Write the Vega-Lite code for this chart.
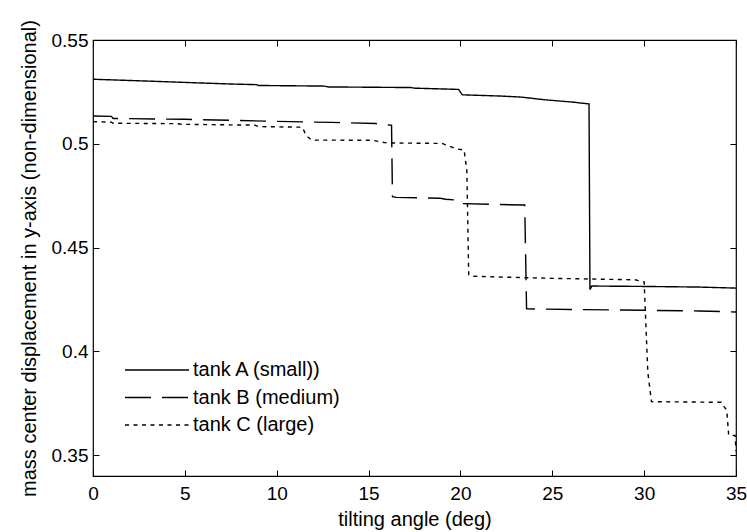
{
  "$schema": "https://vega.github.io/schema/vega-lite/v6.json",
  "width": 643,
  "height": 436,
  "autosize": {"type": "none"},
  "padding": {"left": 93, "top": 40, "right": 11, "bottom": 56},
  "background": "white",
  "config": {
    "view": {"stroke": "black", "strokeWidth": 1.2},
    "axis": {
      "domain": false,
      "grid": false,
      "ticks": true,
      "tickColor": "black",
      "tickSize": -6,
      "tickWidth": 1,
      "labelFont": "Liberation Sans",
      "labelFontSize": 19,
      "labelColor": "black",
      "titleFont": "Liberation Sans",
      "titleFontSize": 20,
      "titleFontWeight": "normal",
      "titleColor": "black",
      "labelFlush": false,
      "labelOverlap": false
    },
    "legend": {
      "labelFont": "Liberation Sans",
      "labelFontSize": 20,
      "labelColor": "black"
    }
  },
  "datasets": {
    "curves": [
      {"tank": "tank A (small))", "angle": 0, "disp": 0.5311},
      {"tank": "tank A (small))", "angle": 3, "disp": 0.5302},
      {"tank": "tank A (small))", "angle": 7.5, "disp": 0.5288},
      {"tank": "tank A (small))", "angle": 8.9, "disp": 0.5285},
      {"tank": "tank A (small))", "angle": 9.0, "disp": 0.5281},
      {"tank": "tank A (small))", "angle": 12.6, "disp": 0.5278},
      {"tank": "tank A (small))", "angle": 12.8, "disp": 0.5274},
      {"tank": "tank A (small))", "angle": 17.3, "disp": 0.5271},
      {"tank": "tank A (small))", "angle": 17.5, "disp": 0.5268},
      {"tank": "tank A (small))", "angle": 19.9, "disp": 0.5262},
      {"tank": "tank A (small))", "angle": 20.1, "disp": 0.5236},
      {"tank": "tank A (small))", "angle": 22.2, "disp": 0.523},
      {"tank": "tank A (small))", "angle": 23.3, "disp": 0.5225},
      {"tank": "tank A (small))", "angle": 24.6, "disp": 0.5212},
      {"tank": "tank A (small))", "angle": 26.1, "disp": 0.5201},
      {"tank": "tank A (small))", "angle": 27.0, "disp": 0.5192},
      {"tank": "tank A (small))", "angle": 27.05, "disp": 0.4298},
      {"tank": "tank A (small))", "angle": 27.15, "disp": 0.4315},
      {"tank": "tank A (small))", "angle": 30, "disp": 0.4313},
      {"tank": "tank A (small))", "angle": 33, "disp": 0.431},
      {"tank": "tank A (small))", "angle": 35, "disp": 0.4305},
      {"tank": "tank B (medium)", "angle": 0, "disp": 0.5134},
      {"tank": "tank B (medium)", "angle": 1.0, "disp": 0.5132},
      {"tank": "tank B (medium)", "angle": 1.1, "disp": 0.5122},
      {"tank": "tank B (medium)", "angle": 5, "disp": 0.5118},
      {"tank": "tank B (medium)", "angle": 8, "disp": 0.5112},
      {"tank": "tank B (medium)", "angle": 10, "disp": 0.5108},
      {"tank": "tank B (medium)", "angle": 13, "disp": 0.5103},
      {"tank": "tank B (medium)", "angle": 15.4, "disp": 0.5098},
      {"tank": "tank B (medium)", "angle": 15.6, "disp": 0.5092},
      {"tank": "tank B (medium)", "angle": 16.25, "disp": 0.509},
      {"tank": "tank B (medium)", "angle": 16.3, "disp": 0.4745},
      {"tank": "tank B (medium)", "angle": 16.5, "disp": 0.4742},
      {"tank": "tank B (medium)", "angle": 18.9, "disp": 0.4738},
      {"tank": "tank B (medium)", "angle": 19.2, "disp": 0.4733},
      {"tank": "tank B (medium)", "angle": 19.9, "disp": 0.4728},
      {"tank": "tank B (medium)", "angle": 20.0, "disp": 0.4712},
      {"tank": "tank B (medium)", "angle": 23.5, "disp": 0.4705},
      {"tank": "tank B (medium)", "angle": 23.6, "disp": 0.4205},
      {"tank": "tank B (medium)", "angle": 26, "disp": 0.4202},
      {"tank": "tank B (medium)", "angle": 30, "disp": 0.4198},
      {"tank": "tank B (medium)", "angle": 33, "disp": 0.4195},
      {"tank": "tank B (medium)", "angle": 35, "disp": 0.419},
      {"tank": "tank C (large)", "angle": 0, "disp": 0.5107},
      {"tank": "tank C (large)", "angle": 1.0, "disp": 0.5104},
      {"tank": "tank C (large)", "angle": 1.1, "disp": 0.5099},
      {"tank": "tank C (large)", "angle": 4.6, "disp": 0.5097},
      {"tank": "tank C (large)", "angle": 4.8, "disp": 0.5094},
      {"tank": "tank C (large)", "angle": 8.8, "disp": 0.509},
      {"tank": "tank C (large)", "angle": 9.0, "disp": 0.5083},
      {"tank": "tank C (large)", "angle": 11.4, "disp": 0.508},
      {"tank": "tank C (large)", "angle": 11.6, "disp": 0.504},
      {"tank": "tank C (large)", "angle": 11.9, "disp": 0.5018},
      {"tank": "tank C (large)", "angle": 15.2, "disp": 0.5017},
      {"tank": "tank C (large)", "angle": 16.0, "disp": 0.5004},
      {"tank": "tank C (large)", "angle": 19.0, "disp": 0.5002},
      {"tank": "tank C (large)", "angle": 19.8, "disp": 0.4975},
      {"tank": "tank C (large)", "angle": 20.2, "disp": 0.497},
      {"tank": "tank C (large)", "angle": 20.35, "disp": 0.487},
      {"tank": "tank C (large)", "angle": 20.45, "disp": 0.437},
      {"tank": "tank C (large)", "angle": 20.6, "disp": 0.4362},
      {"tank": "tank C (large)", "angle": 25, "disp": 0.4352},
      {"tank": "tank C (large)", "angle": 29.5, "disp": 0.4345},
      {"tank": "tank C (large)", "angle": 30.0, "disp": 0.4335},
      {"tank": "tank C (large)", "angle": 30.2, "disp": 0.39},
      {"tank": "tank C (large)", "angle": 30.4, "disp": 0.3758},
      {"tank": "tank C (large)", "angle": 34.2, "disp": 0.3755},
      {"tank": "tank C (large)", "angle": 34.5, "disp": 0.3715},
      {"tank": "tank C (large)", "angle": 34.6, "disp": 0.3597},
      {"tank": "tank C (large)", "angle": 34.95, "disp": 0.3595},
      {"tank": "tank C (large)", "angle": 35, "disp": 0.352}
    ]
  },
  "data": {"name": "curves"},
  "layer": [
    {
      "mark": {"type": "line", "color": "black", "strokeWidth": 1.4, "clip": true},
      "encoding": {
        "x": {
          "field": "angle",
          "type": "quantitative",
          "scale": {"domain": [0, 35], "nice": false, "zero": false},
          "axis": {
            "orient": "bottom",
            "values": [0, 5, 10, 15, 20, 25, 30, 35],
            "title": "tilting angle (deg)",
            "labelPadding": 14,
            "titlePadding": 6
          }
        },
        "y": {
          "field": "disp",
          "type": "quantitative",
          "scale": {"domain": [0.34, 0.55], "nice": false, "zero": false},
          "axis": {
            "orient": "left",
            "values": [0.35, 0.4, 0.45, 0.5, 0.55],
            "format": ".2~f",
            "title": "mass center displacement in y-axis (non-dimensional)",
            "labelPadding": 11,
            "titlePadding": 12
          }
        },
        "strokeDash": {
          "field": "tank",
          "type": "nominal",
          "scale": {
            "domain": ["tank A (small))", "tank B (medium)", "tank C (large)"],
            "range": [[1, 0], [26, 11], [4, 4.5]]
          },
          "legend": {
            "orient": "none",
            "legendX": 54,
            "legendY": 320,
            "title": null,
            "padding": 0,
            "symbolType": "M-4,0H4",
            "symbolSize": 256,
            "symbolStrokeColor": "black",
            "symbolStrokeWidth": 1.4,
            "labelOffset": 26,
            "rowPadding": 7.5
          }
        }
      }
    },
    {
      "mark": {"type": "point", "opacity": 0},
      "encoding": {
        "x": {
          "field": "angle",
          "type": "quantitative",
          "axis": {
            "orient": "top",
            "values": [0, 5, 10, 15, 20, 25, 30, 35],
            "labels": false,
            "title": null
          }
        },
        "y": {
          "field": "disp",
          "type": "quantitative",
          "axis": {
            "orient": "right",
            "values": [0.35, 0.4, 0.45, 0.5, 0.55],
            "labels": false,
            "title": null
          }
        }
      }
    }
  ],
  "resolve": {"axis": {"x": "independent", "y": "independent"}}
}
